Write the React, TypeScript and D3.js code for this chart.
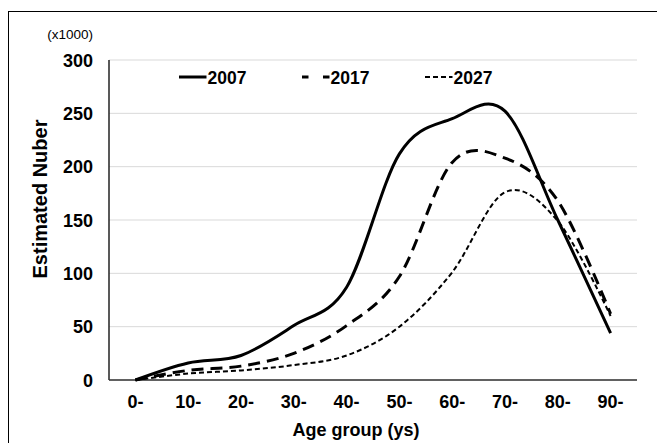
import React from "react";
import * as d3 from "d3";

const ageGroups = ["0-", "10-", "20-", "30-", "40-", "50-", "60-", "70-", "80-", "90-"];
const seriesNames = ["2007", "2017", "2027"];
const values2007 = [0, 16, 23, 51, 87, 212, 245, 252, 150, 44];
const values2017 = [0, 9, 13, 25, 51, 97, 204, 208, 168, 62];
const values2027 = [0, 6, 9, 14, 23, 50, 101, 176, 149, 60];
const yTicks = [0, 50, 100, 150, 200, 250, 300];

const W = 657;
const H = 443;
const FONT = "'Liberation Sans', Arial, Helvetica, sans-serif";

export default function App() {
  const x = d3.scalePoint<string>().domain(ageGroups).range([109, 637]).padding(0.5);
  const y = d3.scaleLinear().domain([0, 300]).range([380, 60]);

  const line = d3
    .line<number>()
    .x((_, i) => x(ageGroups[i]) as number)
    .y((d) => y(d))
    .curve(d3.curveCardinal.tension(0));

  const series = [
    { name: seriesNames[0], values: values2007, width: 3, dash: "none", legendDash: "none", lx: 179 },
    { name: seriesNames[1], values: values2017, width: 3, dash: "12 7", legendDash: "6.5 14.5", lx: 302 },
    { name: seriesNames[2], values: values2027, width: 2, dash: "5 3", legendDash: "5 3", lx: 425 },
  ];

  return (
    <svg
      width={W}
      height={H}
      style={{ position: "absolute", left: 0, top: 0, background: "#fff" }}
      fontFamily={FONT}
    >
      <rect x={0} y={0} width={W} height={H} fill="#fff" />
      <rect x={8.5} y={11.5} width={700} height={460} fill="none" stroke="#000" strokeWidth={1} />

      {/* gridlines */}
      {yTicks.map((t) => (
        <line key={t} x1={109} x2={637} y1={y(t)} y2={y(t)} stroke="#d9d9d9" strokeWidth={1} />
      ))}

      {/* axes */}
      <line x1={109} x2={109} y1={60} y2={380} stroke="#222" strokeWidth={1.5} />
      <line x1={109} x2={637} y1={380} y2={380} stroke="#333" strokeWidth={1.5} />

      {/* y tick labels */}
      {yTicks.map((t) => (
        <text key={t} x={93} y={y(t) + 6.5} textAnchor="end" fontSize={18} fontWeight="bold" fill="#000">
          {t}
        </text>
      ))}
      <text x={93} y={38.5} textAnchor="end" fontSize={13.5} fill="#000">
        (x1000)
      </text>

      {/* x tick labels */}
      {ageGroups.map((g) => (
        <text key={g} x={x(g) as number} y={408} textAnchor="middle" fontSize={18} fontWeight="bold" fill="#000">
          {g}
        </text>
      ))}

      {/* axis titles */}
      <text x={356} y={436} textAnchor="middle" fontSize={18} fontWeight="bold" fill="#000">
        Age group (ys)
      </text>
      <text
        transform="translate(46.5,199) rotate(-90)"
        textAnchor="middle"
        fontSize={20}
        fontWeight="bold"
        fill="#000"
      >
        Estimated Nuber
      </text>

      {/* series */}
      {series.map((s) => (
        <path
          key={s.name}
          d={line(s.values) || ""}
          fill="none"
          stroke="#000"
          strokeWidth={s.width}
          strokeDasharray={s.dash}
          strokeLinejoin="round"
        />
      ))}

      {/* legend */}
      {series.map((s) => (
        <g key={s.name}>
          <line
            x1={s.lx}
            x2={s.lx + 27.5}
            y1={77}
            y2={77}
            stroke="#000"
            strokeWidth={s.width}
            strokeDasharray={s.legendDash}
          />
          <text x={s.lx + 28.5} y={84} fontSize={17.5} fontWeight="bold" fill="#000">
            {s.name}
          </text>
        </g>
      ))}
    </svg>
  );
}
